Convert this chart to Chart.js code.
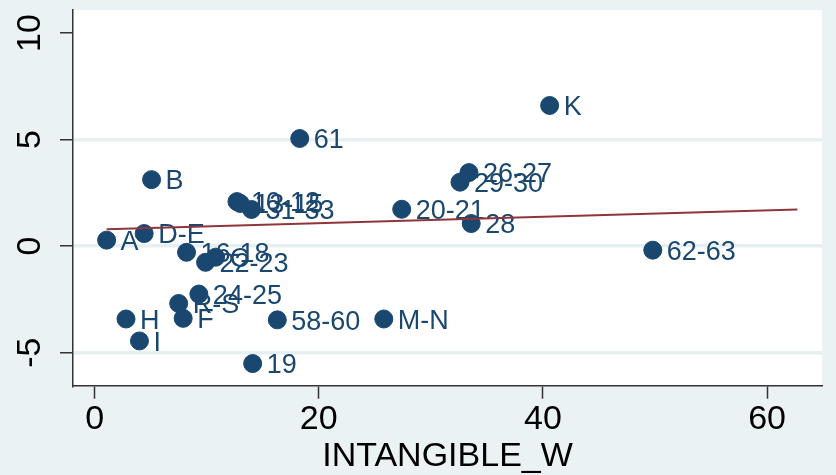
<!DOCTYPE html>
<html>
<head>
<meta charset="utf-8">
<script src="https://cdn.jsdelivr.net/npm/chart.js@4.4.1/dist/chart.umd.min.js"></script>
<style>
  html, body { margin: 0; padding: 0; background: #eaf2f3; }
  #wrap { width: 836px; height: 475px; }
</style>
</head>
<body>
<div id="wrap"><canvas id="c" width="836" height="475"></canvas></div>
<script>
// Industry groups and their values
const industries = ['A','B','C','D-E','F','H','I','K','M-N','R-S','10-12','13-15','16-18','19','20-21','22-23','24-25','26-27','28','29-30','31-33','58-60','61','62-63'];
const intangibleW = [1.07, 5.08, 10.8, 4.42, 7.9, 2.8, 4.0, 40.6, 25.8, 7.5, 12.7, 13.0, 8.2, 14.1, 27.4, 9.9, 9.3, 33.4, 33.6, 32.6, 14.0, 16.3, 18.3, 49.8];
const outcome     = [0.28, 3.12, -0.52, 0.59, -3.39, -3.42, -4.45, 6.6, -3.42, -2.69, 2.09, 2.0, -0.29, -5.51, 1.73, -0.76, -2.25, 3.45, 1.06, 3.0, 1.72, -3.46, 5.05, -0.19];

// Fitted line end points
const fitX = [1.07, 62.7];
const fitY = [0.79, 1.72];

// Axis ticks
const xTicks = [0, 20, 40, 60];
const yTicks = [-5, 0, 5, 10];

const NAVY = '#1a476f';
const MAROON = '#90353b';
const FONT = '"Liberation Sans", Arial, sans-serif';
const AXIS_FONT = 34;
const LABEL_FONT = 27;

// One dataset per point so each marker is followed by its own label
const pointSets = industries.map((name, i) => ({
  type: 'scatter',
  label: name,
  data: [{ x: intangibleW[i], y: outcome[i] }],
  backgroundColor: NAVY,
  borderColor: NAVY,
  pointRadius: 9,
  pointBorderWidth: 1,
  pointHoverRadius: 9,
  order: -i
}));

const fitSet = {
  type: 'line',
  label: 'fit',
  data: fitX.map((x, i) => ({ x, y: fitY[i] })),
  borderColor: MAROON,
  borderWidth: 2,
  pointRadius: 0,
  fill: false,
  order: -1000
};

const backdrop = {
  id: 'backdrop',
  beforeDraw(chart) {
    const { ctx, chartArea: a } = chart;
    ctx.save();
    ctx.fillStyle = '#eaf2f3';
    ctx.fillRect(0, 0, chart.width, chart.height);
    ctx.fillStyle = '#ffffff';
    ctx.fillRect(a.left, a.top, a.right - a.left, a.bottom - a.top);
    ctx.restore();
  }
};

const markerLabels = {
  id: 'markerLabels',
  afterDatasetDraw(chart, args) {
    const ds = chart.data.datasets[args.index];
    if (ds.type !== 'scatter') return;
    const el = args.meta.data[0];
    if (!el) return;
    const ctx = chart.ctx;
    ctx.save();
    ctx.font = LABEL_FONT + 'px ' + FONT;
    ctx.fillStyle = NAVY;
    ctx.textAlign = 'left';
    ctx.textBaseline = 'alphabetic';
    ctx.fillText(ds.label, el.x + 14, el.y + LABEL_FONT * 0.36);
    ctx.restore();
  }
};

const yLabels = {
  id: 'yLabels',
  afterDraw(chart) {
    const ctx = chart.ctx;
    const y = chart.scales.y;
    ctx.save();
    ctx.font = AXIS_FONT + 'px ' + FONT;
    ctx.fillStyle = '#000000';
    ctx.textAlign = 'center';
    ctx.textBaseline = 'middle';
    yTicks.forEach(v => {
      const py = y.getPixelForValue(v);
      ctx.save();
      ctx.translate(31, py);
      ctx.rotate(-Math.PI / 2);
      ctx.fillText(String(v), 0, 0);
      ctx.restore();
    });
    ctx.restore();
  }
};

new Chart(document.getElementById('c'), {
  data: { datasets: [...pointSets, fitSet] },
  options: {
    responsive: false,
    animation: false,
    layout: { padding: { top: 9, right: 14, left: 0, bottom: 0 } },
    plugins: { legend: { display: false }, tooltip: { enabled: false } },
    scales: {
      x: {
        type: 'linear',
        min: -1.93,
        max: 64.9,
        afterBuildTicks(scale) { scale.ticks = xTicks.map(v => ({ value: v })); },
        afterFit(scale) { scale.height = 89.3; },
        border: { display: true, color: '#333333', width: 1.5 },
        grid: { drawOnChartArea: false, drawTicks: true, tickLength: 13, tickColor: '#333333', tickWidth: 1.5 },
        ticks: { color: '#000000', font: { family: FONT, size: AXIS_FONT }, padding: 1, maxRotation: 0, autoSkip: false },
        title: { display: true, text: 'INTANGIBLE_W', color: '#000000', font: { family: FONT, size: AXIS_FONT, lineHeight: 1 }, padding: { top: 0, bottom: 1 } }
      },
      y: {
        type: 'linear',
        min: -6.55,
        max: 11.08,
        afterBuildTicks(scale) { scale.ticks = yTicks.map(v => ({ value: v })); },
        afterFit(scale) { scale.width = 73; },
        border: { display: true, color: '#333333', width: 1.5 },
        grid: {
          drawTicks: true,
          tickLength: 13,
          tickColor: '#333333',
          tickWidth: 1.5,
          lineWidth: 3.5,
          color: ctx => (ctx.tick && ctx.tick.value === 10) ? 'rgba(0,0,0,0)' : '#e6eff1'
        },
        ticks: { display: false }
      }
    }
  },
  plugins: [backdrop, markerLabels, yLabels]
});
</script>
</body>
</html>
